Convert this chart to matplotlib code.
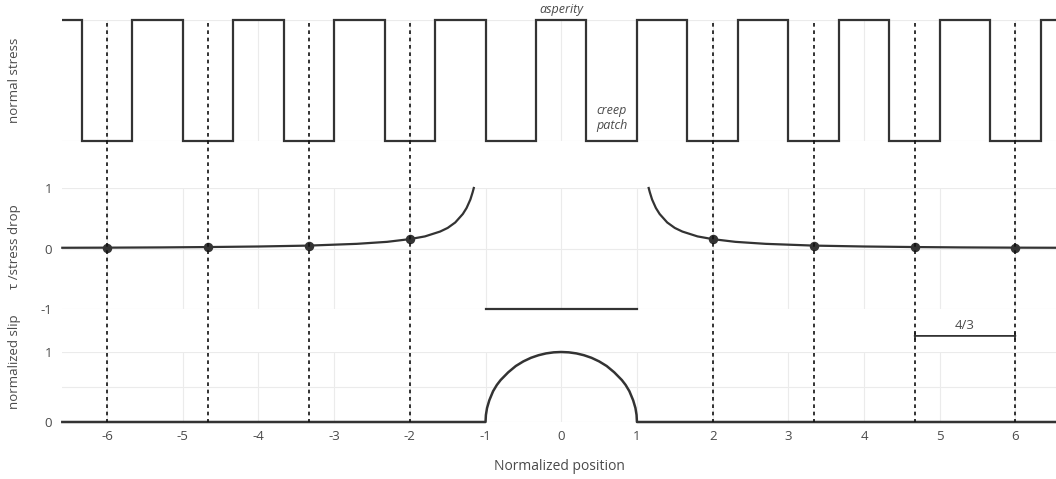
import matplotlib
matplotlib.use("Agg")
import matplotlib.pyplot as plt
from matplotlib.lines import Line2D
import matplotlib.transforms as mtransforms

plt.rcParams['font.family'] = ['Open Sans', 'DejaVu Sans']
plt.rcParams['axes.unicode_minus'] = False

# ---------------- data ----------------
# normal stress: square wave (1 = asperity, 0 = creep patch)
stress_edges = [-6.59, -6.333, -5.667, -5.0, -4.333, -3.667, -3.0, -2.333, -1.667,
                -1.0, -0.333, 0.333, 1.0, 1.667, 2.333, 3.0, 3.667, 4.333, 5.0,
                5.667, 6.333, 6.6]
stress_levels = [1, 0, 1, 0, 1, 0, 1, 0, 1, 0, 1, 0, 1, 0, 1, 0, 1, 0, 1, 0, 1]

# shear stress / stress drop outside the crack
tau_left_x = [-6.59, -6.0, -5.3, -4.667, -4.0, -3.333, -2.7, -2.3, -2.0, -1.8,
              -1.6, -1.5, -1.4, -1.3, -1.25, -1.2, -1.17, -1.155]
tau_left_y = [0.012, 0.014, 0.018, 0.024, 0.033, 0.048, 0.077, 0.11, 0.155, 0.20,
              0.28, 0.34, 0.43, 0.57, 0.67, 0.81, 0.93, 1.0]
tau_right_x = [1.155, 1.17, 1.2, 1.25, 1.3, 1.4, 1.5, 1.6, 1.8, 2.0, 2.3, 2.7,
               3.333, 4.0, 4.667, 5.3, 6.0, 6.6]
tau_right_y = [1.0, 0.93, 0.81, 0.67, 0.57, 0.43, 0.34, 0.28, 0.20, 0.155, 0.11,
               0.077, 0.048, 0.033, 0.024, 0.018, 0.014, 0.012]
# stress drop inside the crack
tau_in_x = [-1.0, 1.0]
tau_in_y = [-1.0, -1.0]

# asperity centres (dots + dashed guides)
asp_x = [-6.0, -4.667, -3.333, -2.0, 2.0, 3.333, 4.667, 6.0]
asp_y = [0.014, 0.024, 0.048, 0.155, 0.155, 0.048, 0.024, 0.014]

# normalized slip
slip_x = [-6.59, -1.0, -0.995, -0.98, -0.95, -0.9, -0.85, -0.8, -0.7, -0.6, -0.5,
          -0.4, -0.3, -0.2, -0.1, 0.0, 0.1, 0.2, 0.3, 0.4, 0.5, 0.6, 0.7, 0.8,
          0.85, 0.9, 0.95, 0.98, 0.995, 1.0, 6.6]
slip_y = [0.0, 0.0, 0.10, 0.20, 0.31, 0.44, 0.53, 0.60, 0.71, 0.80, 0.866,
          0.917, 0.954, 0.98, 0.995, 1.0, 0.995, 0.98, 0.954, 0.917, 0.866, 0.80, 0.71, 0.60,
          0.53, 0.44, 0.31, 0.20, 0.10, 0.0, 0.0]

x_ticks = [-6, -5, -4, -3, -2, -1, 0, 1, 2, 3, 4, 5, 6]
tau_ticks = [1, 0, -1]
slip_grid = [0, 0.5, 1]
bar_x = [4.667, 6.0]
bar_label = "4/3"

# ---------------- figure ----------------
W, H = 1056, 479
fig = plt.figure(figsize=(W / 100, H / 100), dpi=100)

def fy(px):
    return 1 - px / H

left = 62 / W
width = 1 - left
ax1 = fig.add_axes([left, fy(141), width, fy(20) - fy(141)])
ax2 = fig.add_axes([left, fy(309), width, fy(188) - fy(309)])
ax3 = fig.add_axes([left, fy(422), width, fy(352) - fy(422)])

XL = (-6.594, 6.535)
line_c = '#333333'
grid_c = '#ebebeb'
text_c = '#4a4a4a'

for ax in (ax1, ax2, ax3):
    ax.set_xlim(*XL)
    for s in ax.spines.values():
        s.set_visible(False)
    ax.set_xticks(x_ticks)
    ax.grid(True, color=grid_c, lw=0.8, zorder=0)
    ax.tick_params(length=0, colors=text_c, labelsize=9.5)
    ax.set_facecolor('none')
    ax.set_axisbelow(True)

# top panel
ax1.set_ylim(0, 1)
ax1.set_yticks([0, 1])
ax1.set_yticklabels([])
ax1.set_xticklabels([])
ax1.stairs(stress_levels, stress_edges, baseline=None, color=line_c, lw=1.6,
           clip_on=False)
ax1.text(0, 1.03, "asperity", style='italic', ha='center', va='bottom',
         fontsize=9, color=text_c, clip_on=False)
ax1.text(0.667, 0.19, "creep\npatch", style='italic', ha='center', va='center',
         fontsize=9, color=text_c, linespacing=1.2)

# middle panel
ax2.set_ylim(-1, 1)
ax2.set_yticks(tau_ticks)
ax2.set_xticklabels([])
ax2.tick_params(axis='y', pad=7)
ax2.plot(tau_left_x, tau_left_y, color=line_c, lw=1.6, clip_on=False)
ax2.plot(tau_right_x, tau_right_y, color=line_c, lw=1.6, clip_on=False)
ax2.plot(tau_in_x, tau_in_y, color=line_c, lw=1.6, clip_on=False)
ax2.plot(asp_x, asp_y, 'o', ms=5.8, color=line_c, clip_on=False, zorder=5)

# bottom panel
ax3.set_ylim(0, 1)
ax3.set_yticks(slip_grid)
ax3.set_yticklabels(['0', '', '1'])
ax3.tick_params(axis='y', pad=7)
ax3.tick_params(axis='x', pad=6)
ax3.plot(slip_x, slip_y, color=line_c, lw=1.8, clip_on=False)
ax3.annotate('', xy=(bar_x[1], 1.23), xytext=(bar_x[0], 1.23),
             arrowprops=dict(arrowstyle='|-|,widthA=0.2,widthB=0.2', lw=1.3,
                             color=line_c, shrinkA=0, shrinkB=0),
             annotation_clip=False)
ax3.text(sum(bar_x) / 2, 1.29, bar_label, ha='center', va='bottom', fontsize=9.5,
         color=text_c, clip_on=False)
ax3.set_xlabel("Normalized position", fontsize=10, color=text_c, labelpad=11)

# dashed guides through all panels
tr = mtransforms.blended_transform_factory(ax3.transData, fig.transFigure)
for xv in asp_x:
    fig.add_artist(Line2D([xv, xv], [fy(23), fy(422)], transform=tr,
                          color='#111111', lw=1.2, linestyle=(0, (2.2, 2.2)),
                          zorder=3))

# y labels
fig.text(15 / W, fy(80), "normal stress", rotation=90, ha='center', va='center',
         fontsize=9.5, color=text_c)
fig.text(15 / W, fy(247), "τ /stress drop", rotation=90, ha='center', va='center',
         fontsize=9.5, color=text_c)
fig.text(15 / W, fy(362), "normalized slip", rotation=90, ha='center', va='center',
         fontsize=9.5, color=text_c)

fig.savefig("out.png", dpi=100)
